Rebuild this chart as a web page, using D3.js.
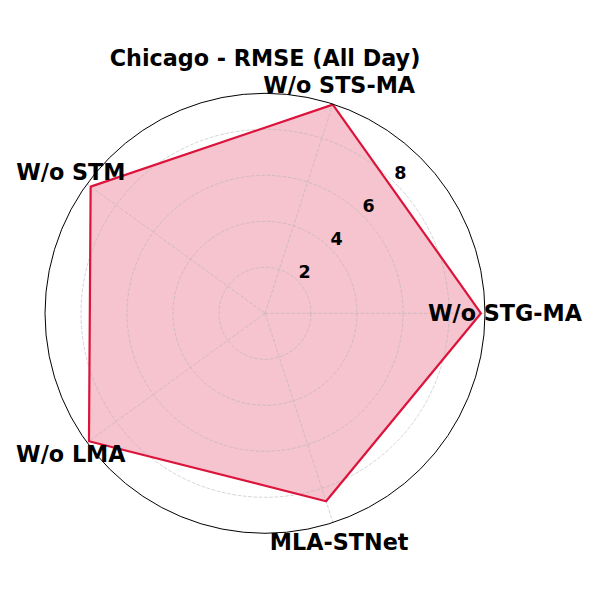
<!DOCTYPE html>
<html>
<head>
<meta charset="utf-8">
<script src="https://cdn.jsdelivr.net/npm/d3@7"></script>
<style>
  body { margin: 0; background: #fff; }
  text { font-family: "DejaVu Sans", sans-serif; font-weight: bold; fill: #000; }
</style>
</head>
<body>
<div id="chart"></div>
<script>
const categories = ['W/o STG-MA', 'W/o STS-MA', 'W/o STM', 'W/o LMA', 'MLA-STNet'];
const rmseValues = [9.39, 9.54, 9.37, 9.46, 8.59];
const radialTicks = [2, 4, 6, 8];
const chartTitle = 'Chicago - RMSE (All Day)';

const width = 600, height = 600;
const cx = 265, cy = 313.3;
const outerR = 220;
const rMax = 9.565;

const svg = d3.select('#chart').append('svg')
  .attr('width', width).attr('height', height);

const g = svg.append('g').attr('transform', `translate(${cx},${cy})`);

const r = d3.scaleLinear().domain([0, rMax]).range([0, outerR]);
// angle measured counterclockwise from the right, like matplotlib polar
const angle = d3.scalePoint().domain(categories).range([0, 2 * Math.PI * (categories.length - 1) / categories.length]);

const px = (a, rad) => rad * Math.cos(a);
const py = (a, rad) => -rad * Math.sin(a);

// filled polygon (below grid)
const pts = categories.map((c, i) => [px(angle(c), r(rmseValues[i])), py(angle(c), r(rmseValues[i]))]);
const lineGen = d3.line().curve(d3.curveLinearClosed);

g.append('path')
  .attr('d', lineGen(pts))
  .attr('fill', 'crimson').attr('fill-opacity', 0.25)
  .attr('stroke', 'none');

// grid
g.selectAll('circle.grid').data(radialTicks).enter().append('circle')
  .attr('r', d => r(d))
  .attr('fill', 'none').attr('stroke', '#b0b0b0').attr('stroke-opacity', 0.6)
  .attr('stroke-width', 0.9).attr('stroke-dasharray', '3.7,1.6');

g.selectAll('line.spoke').data(categories).enter().append('line')
  .attr('x1', 0).attr('y1', 0)
  .attr('x2', d => px(angle(d), outerR)).attr('y2', d => py(angle(d), outerR))
  .attr('stroke', '#b0b0b0').attr('stroke-opacity', 0.6)
  .attr('stroke-width', 0.9).attr('stroke-dasharray', '3.7,1.6');

// data outline
g.append('path')
  .attr('d', lineGen(pts))
  .attr('fill', 'none').attr('stroke', 'crimson').attr('stroke-width', 2.2)
  .attr('stroke-linejoin', 'round');

// outer spine
g.append('circle').attr('r', outerR)
  .attr('fill', 'none').attr('stroke', '#000').attr('stroke-width', 1);

// radial tick labels
const labA = 46 * Math.PI / 180;
g.selectAll('text.rtick').data(radialTicks).enter().append('text')
  .attr('x', d => px(labA, r(d) + 11)).attr('y', d => py(labA, r(d) + 11))
  .attr('text-anchor', 'middle').attr('dominant-baseline', 'central')
  .style('font-size', '17.5px')
  .text(d => d);

// category labels
g.selectAll('text.cat').data(categories).enter().append('text')
  .attr('x', d => px(angle(d), outerR + 20)).attr('y', d => py(angle(d), outerR + 20))
  .attr('text-anchor', 'middle').attr('dominant-baseline', 'central')
  .style('font-size', '22.3px')
  .text(d => d);

// title
svg.append('text')
  .attr('x', cx).attr('y', 58)
  .attr('text-anchor', 'middle').attr('dominant-baseline', 'central')
  .style('font-size', '22.3px')
  .text(chartTitle);
</script>
</body>
</html>
